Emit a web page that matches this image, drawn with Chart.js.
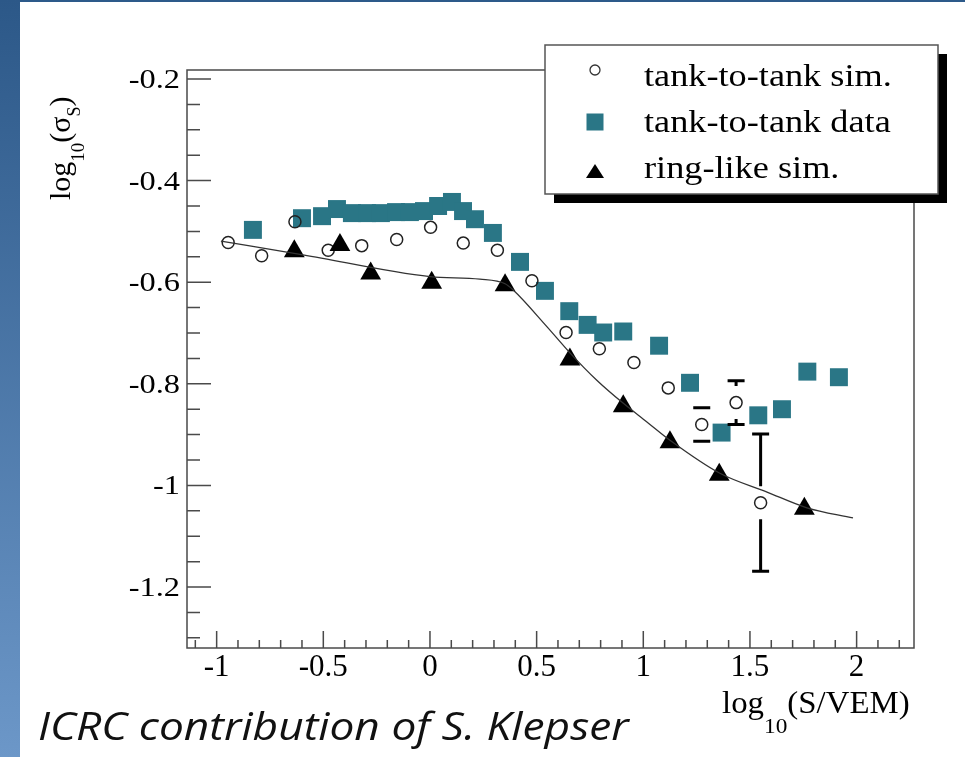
<!DOCTYPE html>
<html>
<head>
<meta charset="utf-8">
<script src="https://cdn.jsdelivr.net/npm/chart.js@4.4.1/dist/chart.umd.min.js"></script>
<style>
  html, body { margin: 0; padding: 0; }
  body { width: 965px; height: 757px; position: relative; overflow: hidden; background: #2d5a8a; }
  #strip { position: absolute; left: 0; top: 0; width: 20px; height: 757px; background: linear-gradient(#2c5888, #6c97c8); }
  #panel { position: absolute; left: 20px; top: 2px; right: 0; bottom: 0; background: #fff; }
  #c { position: absolute; left: 0; top: 0; }
  .ttl { position: absolute; font-family: 'Liberation Serif', serif; white-space: nowrap; color: #000; }
  .ttl span { position: relative; }
  #xttl { left: 722px; top: 687px; font-size: 31px; line-height: 31px; transform-origin: 0 0; transform: scaleX(1.06); }
  #yttl { left: 45px; top: 200px; font-size: 30px; line-height: 30px; transform-origin: 0 0; transform: rotate(-90deg); }
  #note { position: absolute; left: 38px; top: 706px; font: italic 38px/38px 'Open Sans', sans-serif; color: #111; white-space: nowrap; transform-origin: 0 0; transform: scaleX(1.165); }
</style>
</head>
<body>
<div id="strip"></div>
<div id="panel"></div>
<canvas id="c" width="965" height="757"></canvas>
<div class="ttl" id="xttl">log<span style="font-size:22px;top:20px">10</span>(S/VEM)</div>
<div class="ttl" id="yttl">log<span style="font-size:19px;top:14px">10</span>(σ<span style="font-size:18px;top:10px">S</span>)</div>
<div id="note">ICRC contribution of S. Klepser</div>
<script>
// tank-to-tank simulation (open circles) with error bars
const simX = [-0.946, -0.789, -0.633, -0.477, -0.320, -0.156, 0.003, 0.156, 0.316, 0.478, 0.638, 0.794, 0.956, 1.117, 1.274, 1.435, 1.550]
const simY = [-0.522, -0.548, -0.481, -0.537, -0.528, -0.516, -0.492, -0.523, -0.537, -0.597, -0.699, -0.731, -0.758, -0.808, -0.880, -0.837, -1.034]
const simErr = [0, 0, 0, 0, 0, 0, 0, 0, 0, 0, 0, 0, 0, 0, 0.033, 0.043, 0.135]

// tank-to-tank data (squares)
const dataX = [-0.830, -0.600, -0.506, -0.436, -0.366, -0.295, -0.230, -0.159, -0.094, -0.028, 0.038, 0.103, 0.155, 0.211, 0.295, 0.422, 0.539, 0.653, 0.739, 0.812, 0.906, 1.074, 1.219, 1.367, 1.539, 1.650, 1.769, 1.917]
const dataY = [-0.497, -0.474, -0.470, -0.456, -0.464, -0.464, -0.464, -0.462, -0.462, -0.460, -0.450, -0.442, -0.460, -0.476, -0.503, -0.560, -0.617, -0.657, -0.684, -0.699, -0.697, -0.725, -0.798, -0.896, -0.862, -0.850, -0.776, -0.787]

// ring-like simulation (triangles)
const ringX = [-0.636, -0.422, -0.278, 0.008, 0.352, 0.656, 0.906, 1.125, 1.356, 1.755]
const ringY = [-0.539, -0.527, -0.583, -0.601, -0.606, -0.752, -0.844, -0.915, -0.979, -1.046]

// fitted curve
const fitX = [-0.980, -0.595, 0.0, 0.234, 0.352, 0.389, 0.549, 0.656, 0.782, 0.905, 1.017, 1.125, 1.359, 1.580, 1.767, 1.983]
const fitY = [-0.519, -0.546, -0.589, -0.594, -0.603, -0.615, -0.688, -0.739, -0.793, -0.838, -0.875, -0.911, -0.976, -1.013, -1.044, -1.064]

const xTickVals = [-1, -0.5, 0, 0.5, 1, 1.5, 2]
const xTickText = ['-1', '-0.5', '0', '0.5', '1', '1.5', '2']
const yTickVals = [-1.2, -1, -0.8, -0.6, -0.4, -0.2]
const yTickText = ['-1.2', '-1', '-0.8', '-0.6', '-0.4', '-0.2']

const teal = '#2a7686'
const axisColor = '#4a4a4a'
const serif = "'Liberation Serif', serif"

const pts = (xs, ys) => xs.map((x, i) => ({ x: x, y: ys[i] }))

// frame, inward ticks and tick labels
const frame = {
  id: 'frame',
  beforeDatasetsDraw(chart) {
    const { ctx, chartArea: a } = chart
    const x = chart.scales.x, y = chart.scales.y
    ctx.save()
    ctx.strokeStyle = axisColor
    ctx.lineWidth = 1.5
    ctx.strokeRect(a.left, a.top, a.right - a.left, a.bottom - a.top)
    ctx.beginPath()
    for (let i = -26; i <= -4; i++) {
      const py = y.getPixelForValue(i * 0.05)
      const len = i % 4 === 0 ? 24 : 13
      ctx.moveTo(a.left, py)
      ctx.lineTo(a.left + len, py)
    }
    for (let i = -11; i <= 22; i++) {
      const px = x.getPixelForValue(i / 10)
      const len = i % 5 === 0 ? 17 : 8
      ctx.moveTo(px, a.bottom)
      ctx.lineTo(px, a.bottom - len)
    }
    ctx.stroke()

    ctx.fillStyle = '#000'
    ctx.font = '31px ' + serif
    ctx.textAlign = 'center'
    ctx.textBaseline = 'alphabetic'
    xTickVals.forEach((v, i) => ctx.fillText(xTickText[i], x.getPixelForValue(v), a.bottom + 28))

    ctx.font = '27px ' + serif
    ctx.textAlign = 'right'
    yTickVals.forEach((v, i) => {
      ctx.save()
      ctx.translate(a.left - 7, y.getPixelForValue(v) + 9)
      ctx.scale(1.2, 1)
      ctx.fillText(yTickText[i], 0, 0)
      ctx.restore()
    })
    ctx.restore()
  }
}

// vertical error bars, left open around the marker
const errBars = {
  id: 'errBars',
  afterDatasetsDraw(chart) {
    const { ctx } = chart
    const x = chart.scales.x, y = chart.scales.y
    const gap = 16.5, cap = 8.5
    ctx.save()
    ctx.strokeStyle = '#000'
    ctx.lineWidth = 3
    ctx.beginPath()
    simErr.forEach((e, i) => {
      if (!e) return
      const px = x.getPixelForValue(simX[i])
      const py = y.getPixelForValue(simY[i])
      const top = y.getPixelForValue(simY[i] + e)
      const bot = y.getPixelForValue(simY[i] - e)
      if (py - top > gap) { ctx.moveTo(px, top); ctx.lineTo(px, py - gap) }
      if (bot - py > gap) { ctx.moveTo(px, py + gap); ctx.lineTo(px, bot) }
      ctx.moveTo(px - cap, top); ctx.lineTo(px + cap, top)
      ctx.moveTo(px - cap, bot); ctx.lineTo(px + cap, bot)
    })
    ctx.stroke()
    ctx.restore()
  }
}

// boxed legend with a drop shadow
const boxLegend = {
  id: 'boxLegend',
  afterDraw(chart) {
    const { ctx } = chart
    const bx = 545, by = 45, bw = 393, bh = 149
    ctx.save()
    ctx.fillStyle = '#000'
    ctx.fillRect(bx + 9, by + 9, bw, bh)
    ctx.fillStyle = '#fff'
    ctx.fillRect(bx, by, bw, bh)
    ctx.strokeStyle = '#555'
    ctx.lineWidth = 1.5
    ctx.strokeRect(bx, by, bw, bh)

    const rows = chart.data.datasets.filter(d => d.label)
    const markY = [70, 122, 171]
    const textY = [86, 132, 178]
    rows.forEach((d, i) => {
      const mx = 595, my = markY[i]
      ctx.beginPath()
      if (d.pointStyle === 'circle') {
        ctx.arc(mx, my, 5, 0, Math.PI * 2)
        ctx.strokeStyle = '#333'
        ctx.lineWidth = 1.3
        ctx.stroke()
      } else if (d.pointStyle === 'rect') {
        ctx.fillStyle = d.backgroundColor
        ctx.fillRect(mx - 8.5, my - 8.5, 17, 17)
      } else {
        ctx.moveTo(mx, my - 7)
        ctx.lineTo(mx + 9, my + 7)
        ctx.lineTo(mx - 9, my + 7)
        ctx.closePath()
        ctx.fillStyle = d.backgroundColor
        ctx.fill()
      }
      ctx.save()
      ctx.fillStyle = '#000'
      ctx.font = '31px ' + serif
      ctx.textBaseline = 'alphabetic'
      ctx.translate(644, textY[i])
      ctx.scale(1.17, 1)
      ctx.fillText(d.label, 0, 0)
      ctx.restore()
    })
    ctx.restore()
  }
}

new Chart(document.getElementById('c'), {
  type: 'scatter',
  data: {
    datasets: [
      {
        label: 'tank-to-tank sim.',
        data: pts(simX, simY),
        pointStyle: 'circle',
        pointRadius: 6,
        borderColor: '#222',
        borderWidth: 1.5,
        backgroundColor: 'rgba(0,0,0,0)',
        order: 2
      },
      {
        label: 'tank-to-tank data',
        data: pts(dataX, dataY),
        pointStyle: 'rect',
        pointRadius: 12.7,
        borderWidth: 0,
        backgroundColor: teal,
        order: 3
      },
      {
        label: 'ring-like sim.',
        data: pts(ringX, ringY),
        pointStyle: 'triangle',
        pointRadius: 12,
        borderWidth: 0,
        backgroundColor: '#000',
        order: 1
      },
      {
        data: pts(fitX, fitY),
        showLine: true,
        pointRadius: 0,
        borderColor: '#333',
        borderWidth: 1.3,
        cubicInterpolationMode: 'monotone',
        order: 0
      }
    ]
  },
  options: {
    responsive: false,
    animation: false,
    events: [],
    layout: { padding: { top: 70, right: 51, left: 0, bottom: 0 } },
    plugins: { legend: { display: false }, tooltip: { enabled: false } },
    scales: {
      x: {
        type: 'linear', min: -1.139, max: 2.269,
        ticks: { display: false }, grid: { display: false }, border: { display: false },
        afterFit: s => { s.height = 109 }
      },
      y: {
        type: 'linear', min: -1.32, max: -0.1823,
        ticks: { display: false }, grid: { display: false }, border: { display: false },
        afterFit: s => { s.width = 187 }
      }
    }
  },
  plugins: [frame, errBars, boxLegend]
})
</script>
</body>
</html>
